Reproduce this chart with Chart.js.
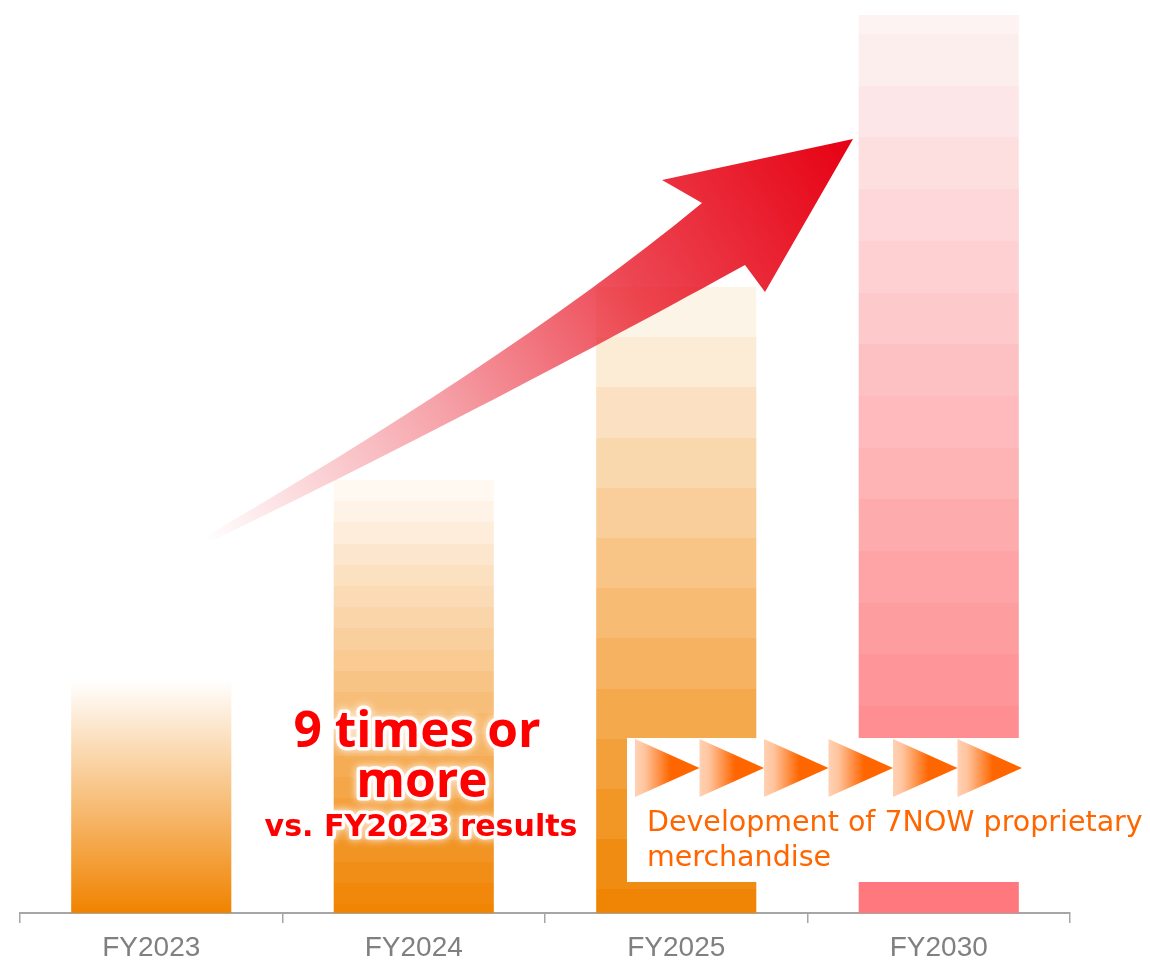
<!DOCTYPE html>
<html><head><meta charset="utf-8">
<script src="https://cdn.jsdelivr.net/npm/chart.js@4/dist/chart.umd.min.js"></script>
<style>html,body{margin:0;padding:0;background:#fff;}#wrap{width:1150px;height:960px;}</style>
</head><body><div id="wrap"><canvas id="c" width="1150" height="960"></canvas></div>
<script>
// ---- data ----
const categories = ['FY2023', 'FY2024', 'FY2025', 'FY2030'];
const values = [23.3, 43.3, 62.6, 89.8];
const axisMax = 90;
const headlineLines = ['9 times or', 'more'];
const sublineText = 'vs. FY2023 results';
const noteLines = ['Development of 7NOW proprietary', 'merchandise'];
const chevronCount = 6;

// ---- styles ----
const barStyles = [
  { top: [255, 255, 255], bottom: [240, 131, 0], band: 0, anchor: 'top' },
  { top: [255, 252, 248], bottom: [240, 131, 0], band: 21.2, anchor: 'top' },
  { top: [254, 249, 242], bottom: [240, 131, 0], band: 50.2, anchor: 'top' },
  { top: [253, 244, 244], bottom: [255, 116, 121], band: 51.7, anchor: 'bottom' }
];

function lerp(a, b, t) {
  return 'rgb(' + a.map((v, i) => Math.round(v + (b[i] - v) * t)).join(',') + ')';
}

function barFill(chart, i) {
  const st = barStyles[i];
  const area = chart.chartArea;
  if (!area || !chart.scales.y) return lerp(st.top, st.bottom, 0.5);
  const y = chart.scales.y;
  const top = y.getPixelForValue(values[i]);
  const bottom = y.getPixelForValue(0);
  const H = bottom - top;
  const g = chart.ctx.createLinearGradient(0, top, 0, bottom);
  if (!st.band) {
    g.addColorStop(0, lerp(st.top, st.bottom, 0));
    g.addColorStop(1, lerp(st.top, st.bottom, 1));
    return g;
  }
  const segs = [];
  if (st.anchor === 'top') {
    for (let s = top; s < bottom - 0.01; s += st.band) segs.push([s, Math.min(bottom, s + st.band)]);
  } else {
    for (let e = bottom; e > top + 0.01; e -= st.band) segs.unshift([Math.max(top, e - st.band), e]);
  }
  segs.forEach(([a, b]) => {
    const t = ((a + b) / 2 - top) / H;
    const col = lerp(st.top, st.bottom, t);
    g.addColorStop(Math.max(0, (a - top) / H), col);
    g.addColorStop(Math.min(1, (b - top) / H), col);
  });
  return g;
}

function fitSize(ctx, text, weight, family, target) {
  ctx.font = weight + ' 100px ' + family;
  const w = ctx.measureText(text).width;
  return 100 * target / w;
}

function glowText(ctx, text, x, y, font, fill) {
  ctx.font = font;
  ctx.textAlign = 'center';
  ctx.textBaseline = 'alphabetic';
  ctx.save();
  ctx.shadowColor = 'rgba(255,255,255,1)';
  ctx.shadowBlur = 8;
  ctx.strokeStyle = 'rgba(255,255,255,0.95)';
  ctx.lineWidth = 7;
  ctx.lineJoin = 'round';
  ctx.strokeText(text, x, y);
  ctx.restore();
  ctx.fillStyle = fill;
  ctx.fillText(text, x, y);
}

const overlay = {
  id: 'overlay',
  afterDatasetsDraw(chart) {
    const ctx = chart.ctx;
    // growth arrow
    ctx.save();
    ctx.beginPath();
    ctx.moveTo(203, 538);
    ctx.bezierCurveTo(380, 435, 560, 320, 702, 203);
    ctx.lineTo(662, 180);
    ctx.lineTo(853, 139);
    ctx.lineTo(765, 292);
    ctx.lineTo(745, 265);
    ctx.bezierCurveTo(600, 345, 400, 450, 212, 541);
    ctx.closePath();
    const ag = ctx.createLinearGradient(205, 540, 853, 139);
    ag.addColorStop(0, 'rgba(230,0,18,0)');
    ag.addColorStop(0.35, 'rgba(230,0,18,0.36)');
    ag.addColorStop(0.65, 'rgba(230,0,18,0.72)');
    ag.addColorStop(1, 'rgba(230,0,18,1)');
    ctx.fillStyle = ag;
    ctx.fill();
    ctx.restore();

    // headline
    const fam1 = '"Open Sans", "Noto Sans", sans-serif';
    const s1 = fitSize(ctx, headlineLines[0], 'bold', fam1, 247);
    glowText(ctx, headlineLines[0], 417, 747, 'bold ' + s1 + 'px ' + fam1, '#ff0000');
    glowText(ctx, headlineLines[1], 422, 797, 'bold ' + s1 + 'px ' + fam1, '#ff0000');
    const fam2 = '"DejaVu Sans", Verdana, sans-serif';
    const s2 = fitSize(ctx, sublineText, 'bold', fam2, 313);
    glowText(ctx, sublineText, 421, 836, 'bold ' + s2 + 'px ' + fam2, '#ff0000');

    // note box
    ctx.save();
    ctx.fillStyle = '#ffffff';
    ctx.fillRect(627, 738, 1150 - 627, 882 - 738);
    const cw = 64.5, cx0 = 635, ct = 739, cb = 797;
    for (let k = 0; k < chevronCount; k++) {
      const x0 = cx0 + k * cw;
      const g = ctx.createLinearGradient(x0, 0, x0 + cw, 0);
      g.addColorStop(0, '#ffd2b4');
      g.addColorStop(0.15, '#ffc49e');
      g.addColorStop(0.55, '#ff6600');
      g.addColorStop(1, '#ff6600');
      ctx.fillStyle = g;
      ctx.beginPath();
      ctx.moveTo(x0, ct);
      ctx.lineTo(x0 + cw, (ct + cb) / 2);
      ctx.lineTo(x0, cb);
      ctx.closePath();
      ctx.fill();
    }
    const nf = '"DejaVu Sans", Verdana, sans-serif';
    const ns = fitSize(ctx, noteLines[0], 'normal', nf, 496);
    ctx.font = 'normal ' + ns + 'px ' + nf;
    ctx.fillStyle = '#ff6600';
    ctx.textAlign = 'left';
    ctx.textBaseline = 'alphabetic';
    ctx.fillText(noteLines[0], 647, 831);
    ctx.fillText(noteLines[1], 647, 866);
    ctx.restore();
  }
};

new Chart(document.getElementById('c'), {
  type: 'bar',
  data: {
    labels: categories,
    datasets: [{
      data: values,
      backgroundColor: (c) => barFill(c.chart, c.dataIndex),
      borderWidth: 0,
      barPercentage: 0.61,
      categoryPercentage: 1.0
    }]
  },
  options: {
    responsive: false,
    devicePixelRatio: 1,
    animation: false,
    events: [],
    layout: { padding: { left: 20, right: 80, top: 13, bottom: 0 } },
    plugins: { legend: { display: false }, tooltip: { enabled: false } },
    scales: {
      x: {
        offset: true,
        grid: { display: true, offset: true, drawOnChartArea: false, drawTicks: true, tickLength: 10, color: '#a6a6a6', lineWidth: 1.5 },
        border: { display: true, color: '#a6a6a6', width: 2 },
        ticks: { color: '#808080', font: { family: '"Liberation Sans", Arial, sans-serif', size: 28 }, padding: 8, maxRotation: 0, autoSkip: false },
        afterFit(s) { s.height = 47; }
      },
      y: { display: false, min: 0, max: axisMax }
    }
  },
  plugins: [overlay]
});
</script>
</body></html>
